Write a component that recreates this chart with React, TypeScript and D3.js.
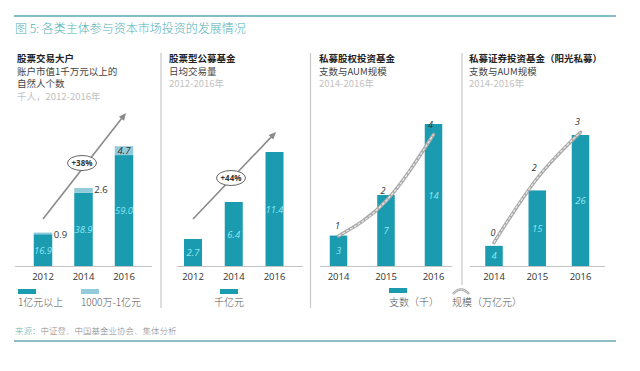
import React from "react";
import * as d3 from "d3";

const W = 640;
const H = 371;
const CJK = "'Noto Sans CJK SC', 'Noto Sans', sans-serif";
const DARK = "#1a9bb0";
const LIGHT = "#92cbd9";
const INLABEL = "#8fe6f4";

// Panel 1 data
const years1 = ["2012", "2014", "2016"];
const big1 = [16.9, 38.9, 59.0];
const mid1 = [0.9, 2.6, 4.7];
// Panel 2 data
const years2 = ["2012", "2014", "2016"];
const vol2 = [2.7, 6.4, 11.4];
// Panel 3 data
const years3 = ["2014", "2015", "2016"];
const count3 = [3, 7, 14];
const aum3 = [1.0, 2.0, 3.9];
const aumLabels3 = ["1", "2", "4"];
// Panel 4 data
const years4 = ["2014", "2015", "2016"];
const count4 = [4, 15, 26];
const aum4 = [0.4, 1.8, 2.8];
const aumLabels4 = ["0", "2", "3"];

const BASE = 266;

function band(domain: string[], c0: number, step: number, bw: number) {
  const p = 1 - bw / step;
  return d3
    .scaleBand<string>()
    .domain(domain)
    .range([c0 - step / 2, c0 - step / 2 + step * domain.length])
    .paddingInner(p)
    .paddingOuter(p / 2);
}

const x1 = band(years1, 43, 40.5, 18.5);
const y1 = d3.scaleLinear().domain([0, 70]).range([BASE, BASE - 131.6]);
const x2 = band(years2, 193, 40.75, 18);
const y2 = d3.scaleLinear().domain([0, 12]).range([BASE, BASE - 120]);
const x3 = band(years3, 338.5, 47.5, 17.5);
const y3 = d3.scaleLinear().domain([0, 14]).range([BASE, BASE - 142]);
const l3 = d3.scaleLinear().domain([0, 4]).range([271, 131]);
const x4 = band(years4, 494, 43.25, 17.5);
const y4 = d3.scaleLinear().domain([0, 26]).range([BASE, BASE - 131]);
const l4 = d3.scaleLinear().domain([0, 3]).range([261, 123]);

function Axis({ x, x0, x1e }: { x: d3.ScaleBand<string>; x0: number; x1e: number }) {
  return (
    <g>
      <line x1={x0} x2={x1e} y1={BASE + 0.5} y2={BASE + 0.5} stroke="#c4c4c4" strokeWidth={1} />
      {x.domain().map((d) => (
        <text
          key={d}
          x={(x(d) as number) + x.bandwidth() / 2}
          y={BASE + 14}
          textAnchor="middle"
          fontSize={9.5}
          fill="#333"
          fontFamily="'Open Sans', sans-serif"
        >
          {d}
        </text>
      ))}
    </g>
  );
}

function TrendLine({ x, l, years, vals, labels }: any) {
  const pts: [number, number][] = years.map((d: string, i: number) => [
    (x(d) as number) + x.bandwidth() / 2,
    l(vals[i]),
  ]);
  const gen = d3.line().curve(d3.curveMonotoneX);
  const p = gen(pts) as string;
  return (
    <g>
      <path d={p} fill="none" stroke="#a9a9a9" strokeWidth={3.4} strokeLinecap="round" />
      <path d={p} fill="none" stroke="#e9e9e9" strokeWidth={1.2} strokeDasharray="3 1.5" />
      {pts.map((pt, i) => (
        <text
          key={i}
          x={pt[0] - (i === 0 ? 1 : 3)}
          y={pt[1] - 7}
          textAnchor="middle"
          fontSize={9}
          fontStyle="italic"
          fill="#333"
          fontFamily="'Open Sans', sans-serif"
        >
          {labels[i]}
        </text>
      ))}
    </g>
  );
}

function Arrow({ xa, ya, xb, yb, cx, cy, label }: any) {
  const ang = Math.atan2(yb - ya, xb - xa);
  const L = 8;
  const a1 = ang + Math.PI - 0.42;
  const a2 = ang + Math.PI + 0.42;
  return (
    <g>
      <line x1={xa} y1={ya} x2={xb - Math.cos(ang) * 3} y2={yb - Math.sin(ang) * 3} stroke="#8a8a8a" strokeWidth={1.6} />
      <path
        d={`M${xb},${yb} L${xb + Math.cos(a1) * L},${yb + Math.sin(a1) * L} L${xb + Math.cos(a2) * L},${yb + Math.sin(a2) * L} Z`}
        fill="#8a8a8a"
      />
      <ellipse cx={cx} cy={cy} rx={14.5} ry={7.5} fill="#fff" stroke="#666" strokeWidth={1} />
      <text x={cx} y={cy + 3} textAnchor="middle" fontSize={8} fontWeight={700} fill="#333" fontFamily="'Open Sans', sans-serif">
        {label}
      </text>
    </g>
  );
}

function InLabel({ x, y, t, fill = INLABEL }: any) {
  return (
    <text x={x} y={y + 3.5} textAnchor="middle" fontSize={9.5} fontStyle="italic" fill={fill} fontFamily="'Open Sans', sans-serif">
      {t}
    </text>
  );
}

function Header({ x, lines }: { x: number; lines: { t: string; c: string; b?: boolean }[] }) {
  return (
    <g fontFamily={CJK}>
      {lines.map((ln, i) => (
        <text key={i} x={x} y={62 + i * 12.5} fontSize={9.5} fontWeight={ln.b ? 700 : 400} fill={ln.c}>
          {ln.t}
        </text>
      ))}
    </g>
  );
}

export default function App() {
  const bw1 = x1.bandwidth();
  return (
    <svg width={W} height={H} style={{ position: "absolute", left: 0, top: 0, background: "#fff" }}>
      <rect width={W} height={H} fill="#fff" />
      {/* top rule & title */}
      <line x1={14} x2={616} y1={16} y2={16} stroke="#5aa9b0" strokeWidth={1.5} />
      <text x={15} y={32.5} fontSize={12} fill="#4fb0b4" fontFamily={CJK} fontWeight={300}>
        图 5: 各类主体参与资本市场投资的发展情况
      </text>

      {/* separators */}
      <line x1={161} x2={161} y1={53} y2={308} stroke="#c8c8c8" strokeWidth={1.2} />
      <line x1={310.5} x2={310.5} y1={53} y2={308} stroke="#c8c8c8" strokeWidth={1.2} />
      <line x1={462} x2={462} y1={53} y2={285} stroke="#c8c8c8" strokeWidth={1.2} />

      {/* headers */}
      <Header
        x={17}
        lines={[
          { t: "股票交易大户", c: "#222", b: true },
          { t: "账户市值1千万元以上的", c: "#444" },
          { t: "自然人个数", c: "#444" },
          { t: "千人，2012-2016年", c: "#c2c2c2" },
        ]}
      />
      <Header
        x={169}
        lines={[
          { t: "股票型公募基金", c: "#222", b: true },
          { t: "日均交易量", c: "#444" },
          { t: "2012-2016年", c: "#c2c2c2" },
        ]}
      />
      <Header
        x={319}
        lines={[
          { t: "私募股权投资基金", c: "#222", b: true },
          { t: "支数与AUM规模", c: "#444" },
          { t: "2014-2016年", c: "#c2c2c2" },
        ]}
      />
      <Header
        x={469}
        lines={[
          { t: "私募证券投资基金（阳光私募）", c: "#222", b: true },
          { t: "支数与AUM规模", c: "#444" },
          { t: "2014-2016年", c: "#c2c2c2" },
        ]}
      />

      {/* Panel 1 */}
      <Arrow xa={43} ya={219} xb={126} yb={113} cx={82} cy={163} label="+38%" />
      {years1.map((d, i) => {
        const bx = x1(d) as number;
        const topBig = y1(big1[i]);
        const topMid = y1(big1[i] + mid1[i]);
        return (
          <g key={d}>
            <rect x={bx} y={topBig} width={bw1} height={BASE - topBig} fill={DARK} />
            <rect x={bx} y={topMid} width={bw1} height={topBig - topMid} fill={LIGHT} />
            <InLabel x={bx + bw1 / 2} y={(topBig + BASE) / 2} t={big1[i].toFixed(1)} />
          </g>
        );
      })}
      {years1.map((d, i) => {
        const bx = x1(d) as number;
        const topMid = y1(big1[i] + mid1[i]);
        const topBig = y1(big1[i]);
        if (i === 2)
          return <InLabel key={d} x={bx + bw1 / 2} y={(topMid + topBig) / 2} t={mid1[i].toFixed(1)} fill="#333" />;
        return (
          <text key={d} x={bx + bw1 + 1.5} y={topMid + 5} fontSize={9.5} fill="#333" fontFamily="'Open Sans', sans-serif">
            {mid1[i].toFixed(1)}
          </text>
        );
      })}
      <Axis x={x1} x0={15} x1e={152} />
      <rect x={18} y={289} width={18} height={5} fill={DARK} />
      <rect x={81} y={289} width={18} height={5} fill={LIGHT} />
      <text x={18} y={306} fontSize={10} fill="#555" fontFamily={CJK} fontWeight={300}>1亿元以上</text>
      <text x={81} y={306} fontSize={10} fill="#555" fontFamily={CJK} fontWeight={300}>1000万-1亿元</text>

      {/* Panel 2 */}
      <Arrow xa={193} ya={219} xb={276} yb={132} cx={231} cy={178} label="+44%" />
      {years2.map((d, i) => {
        const bx = x2(d) as number;
        const t = y2(vol2[i]);
        return (
          <g key={d}>
            <rect x={bx} y={t} width={x2.bandwidth()} height={BASE - t} fill={DARK} />
            <InLabel x={bx + x2.bandwidth() / 2} y={(t + BASE) / 2} t={vol2[i].toFixed(1)} />
          </g>
        );
      })}
      <Axis x={x2} x0={177} x1e={303} />
      <rect x={220} y={289} width={18} height={5} fill={DARK} />
      <text x={229} y={306} textAnchor="middle" fontSize={10} fill="#555" fontFamily={CJK} fontWeight={300}>千亿元</text>

      {/* Panel 3 */}
      {years3.map((d, i) => {
        const bx = x3(d) as number;
        const t = y3(count3[i]);
        return (
          <g key={d}>
            <rect x={bx} y={t} width={x3.bandwidth()} height={BASE - t} fill={DARK} />
            <InLabel x={bx + x3.bandwidth() / 2} y={(t + BASE) / 2} t={String(count3[i])} />
          </g>
        );
      })}
      <TrendLine x={x3} l={l3} years={years3} vals={aum3} labels={aumLabels3} />
      <Axis x={x3} x0={320} x1e={452} />

      {/* Panel 4 */}
      {years4.map((d, i) => {
        const bx = x4(d) as number;
        const t = y4(count4[i]);
        return (
          <g key={d}>
            <rect x={bx} y={t} width={x4.bandwidth()} height={BASE - t} fill={DARK} />
            <InLabel x={bx + x4.bandwidth() / 2} y={(t + BASE) / 2} t={String(count4[i])} />
          </g>
        );
      })}
      <TrendLine x={x4} l={l4} years={years4} vals={aum4} labels={aumLabels4} />
      <Axis x={x4} x0={470} x1e={605} />

      {/* legend panel 3-4 */}
      <rect x={389} y={288} width={18} height={5} fill={DARK} />
      <text x={389} y={306} fontSize={10} fill="#555" fontFamily={CJK} fontWeight={300}>支数（千）</text>
      <path d="M453,294 Q461,285 469,294" fill="none" stroke="#a9a9a9" strokeWidth={2.6} />
      <path d="M453,294 Q461,285 469,294" fill="none" stroke="#eee" strokeWidth={1} strokeDasharray="2 1" />
      <text x={452} y={306} fontSize={10} fill="#555" fontFamily={CJK} fontWeight={300}>规模（万亿元）</text>

      {/* source & bottom rule */}
      <text x={15} y={334} fontSize={8.5} fontFamily={CJK} fontWeight={300}>
        <tspan fill="#5fb5b8">来源：</tspan>
        <tspan fill="#888">中证登、中国基金业协会、集体分析</tspan>
      </text>
      <line x1={14} x2={616} y1={341} y2={341} stroke="#6aa9b5" strokeWidth={1.6} />
    </svg>
  );
}
